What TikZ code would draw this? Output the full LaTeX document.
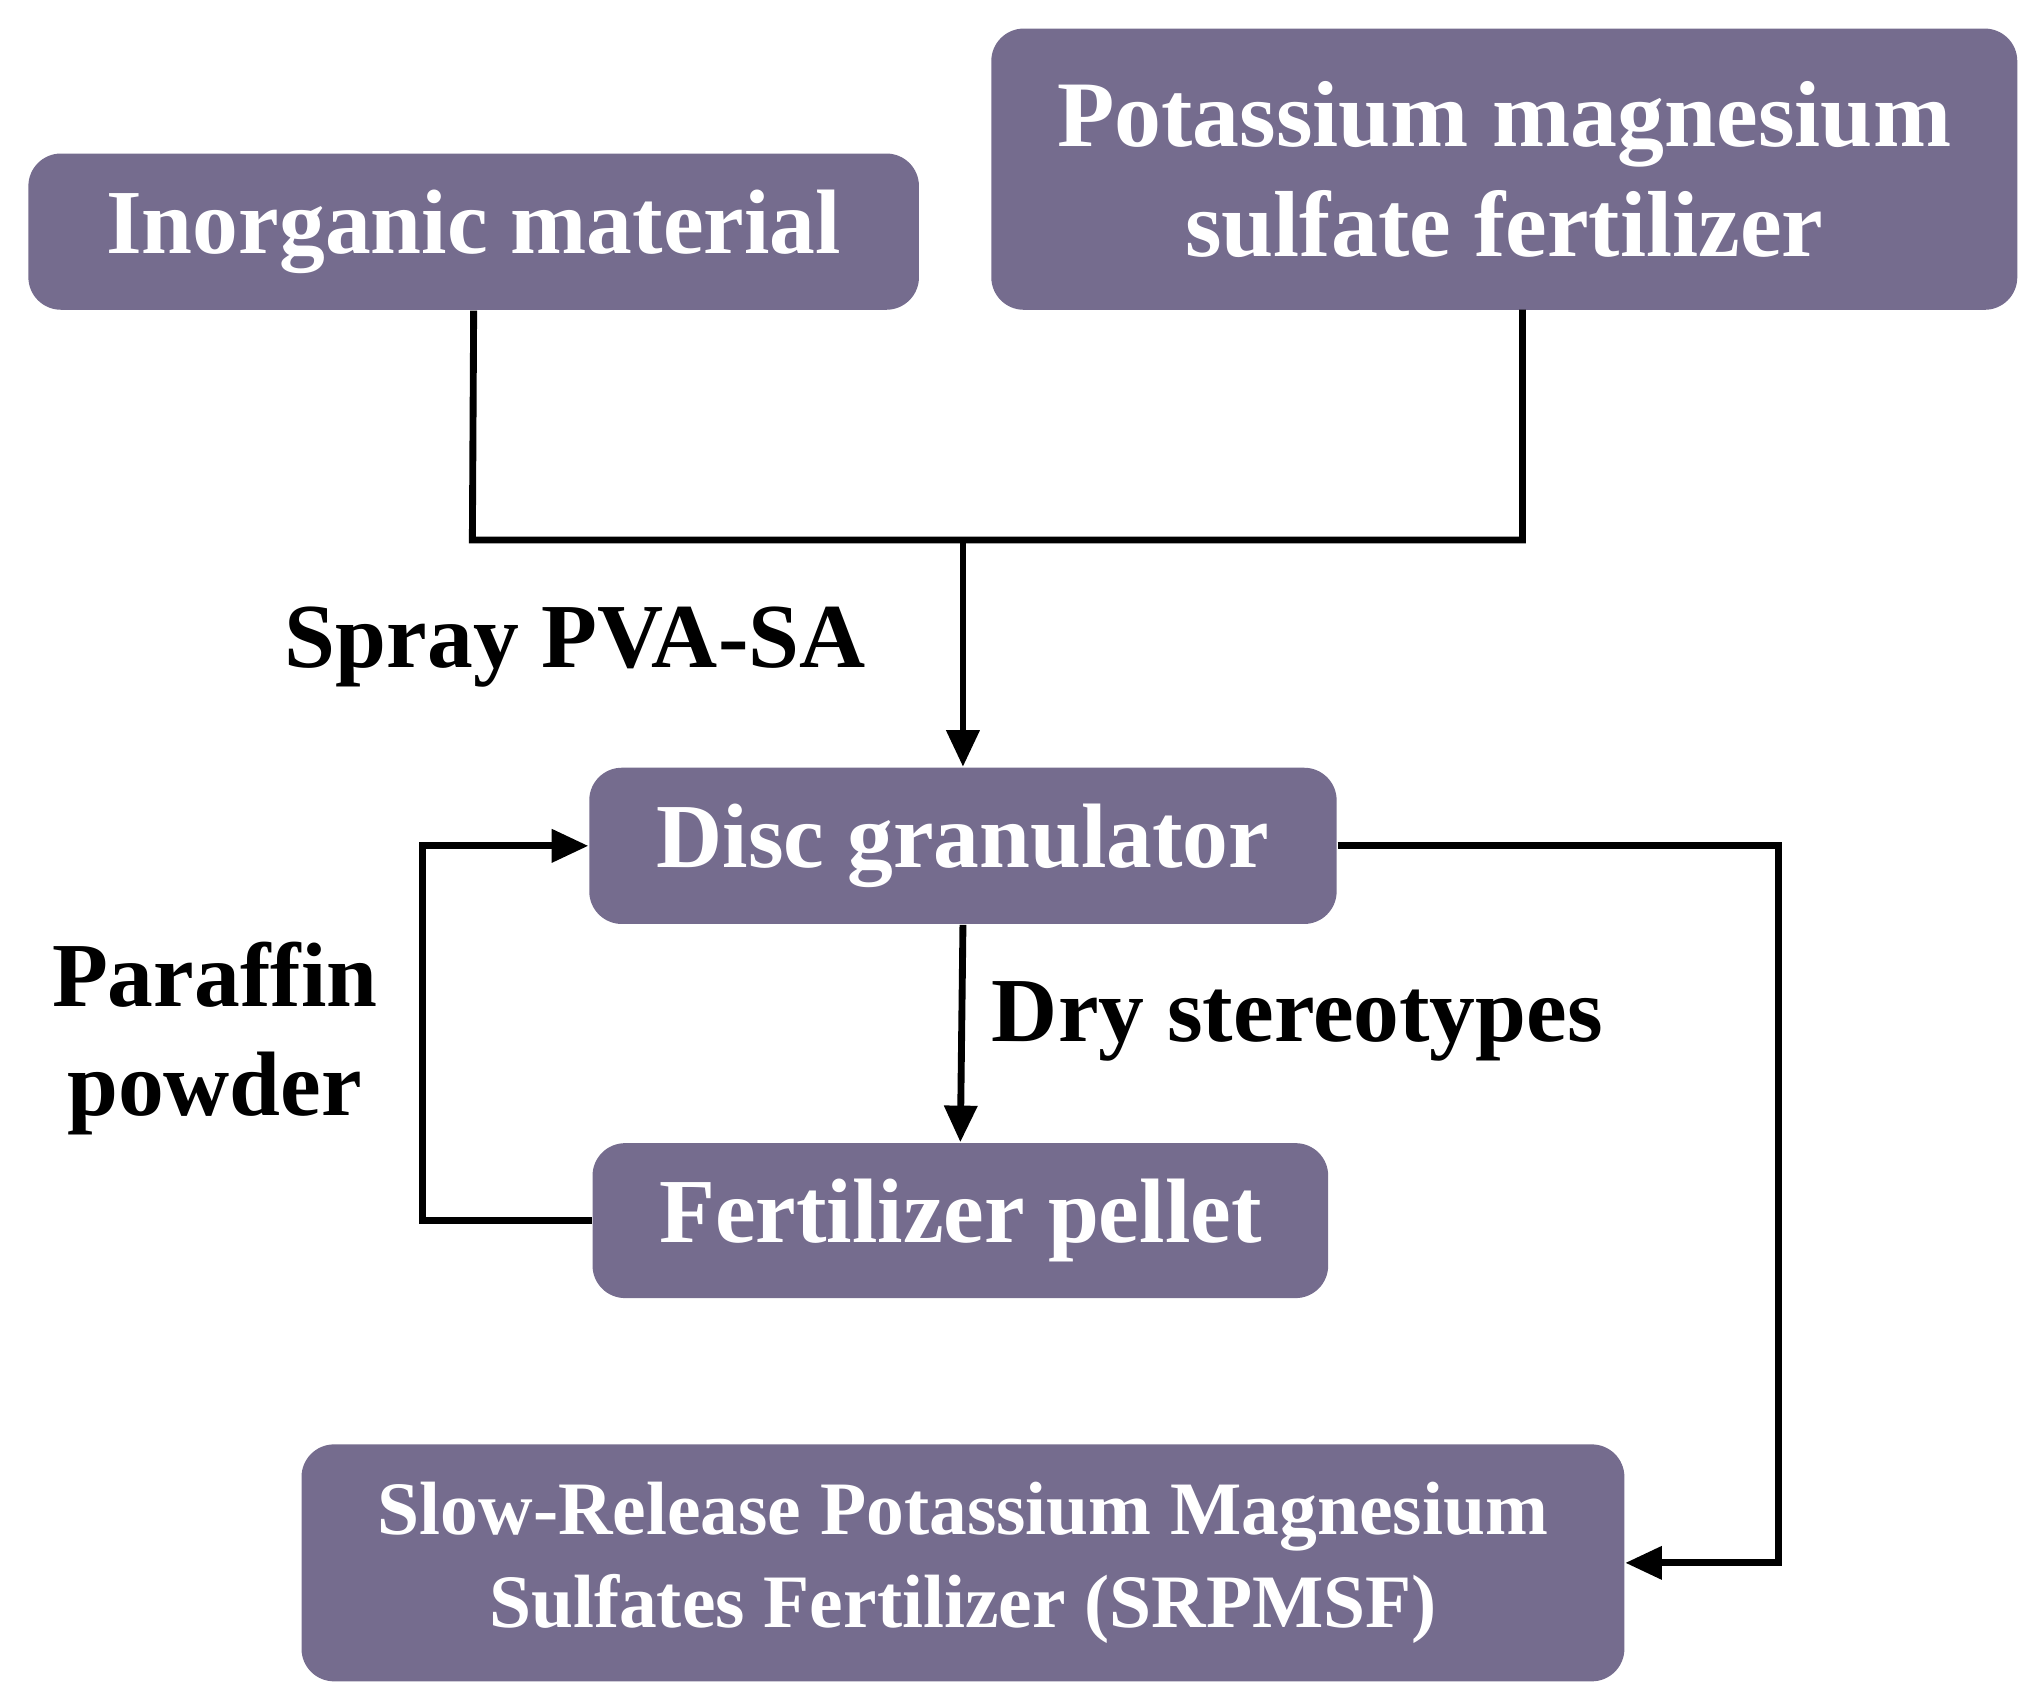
\documentclass[tikz,border=0pt]{standalone}
\usepackage{fontspec}
\setmainfont{Liberation Serif}
\usetikzlibrary{arrows.meta}
\definecolor{boxc}{HTML}{756C8E}
\begin{document}
\begin{tikzpicture}[x=0.01cm,y=-0.01cm,
  box/.style={draw=none,fill=boxc,rounded corners=0.25cm,text=white,font=\bfseries\fontsize{20}{24}\selectfont,align=center,inner sep=0pt},
  lab/.style={font=\bfseries\fontsize{20}{24}\selectfont,align=center},
  ln/.style={line width=1.5pt},
  ar/.style={ln,-{Triangle[length=8pt,width=7pt]}}]
\useasboundingbox (0,0) rectangle (1560,1308);
\node[box,minimum width=6.84cm,minimum height=1.2cm] (ino) at (364,178) {Inorganic material};
\node[box,minimum width=7.88cm,minimum height=2.16cm,font=\bfseries\fontsize{20.5}{24}\selectfont] (pot) at (1156,130) {Potassium magnesium\\sulfate fertilizer};
\node[box,minimum width=5.74cm,minimum height=1.2cm] (disc) at (740,650) {Disc granulator};
\node[box,minimum width=5.65cm,minimum height=1.19cm] (pel) at (738,938) {Fertilizer pellet};
\node[box,minimum width=10.16cm,minimum height=1.82cm,font=\bfseries\fontsize{16.5}{20.5}\selectfont] (sr) at (740,1201) {Slow-Release Potassium Magnesium\\Sulfates Fertilizer (SRPMSF)};
\coordinate (j) at (740,415);
\draw[ln] (ino.south) -- (363,415) -- (1170,415) -- (1170,238);
\draw[ar] (j) -- (disc.north);
\draw[ar] (disc.south) -- (pel.north);
\draw[ar] (pel.west) -- (325,938) -- (325,650) -- (disc.west);
\draw[ar] (disc.east) -- (1367,650) -- (1367,1201) -- (sr.east);
\node[lab] (l1) at (442,497) {Spray PVA-SA};
\node[lab,font=\bfseries\fontsize{20}{24}\selectfont] (l2) at (165,798) {Paraffin\\powder};
\node[lab] (l3) at (997,785) {Dry stereotypes};
\end{tikzpicture}
\end{document}
